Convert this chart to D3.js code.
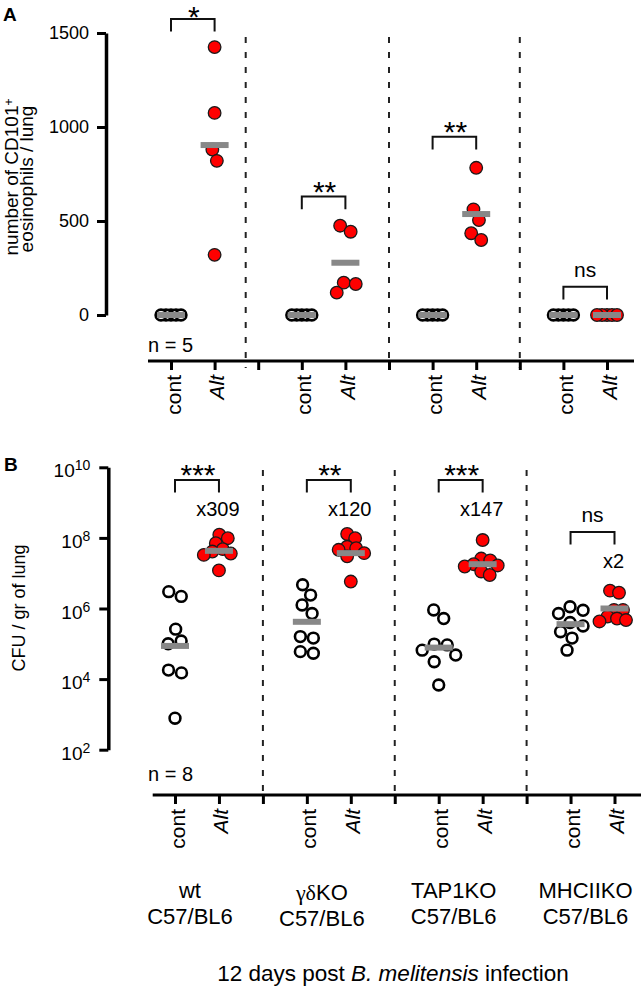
<!DOCTYPE html>
<html><head><meta charset="utf-8">
<script src="https://cdn.jsdelivr.net/npm/d3@7"></script>
<style>
body{margin:0;background:#fff}
svg{display:block}
text{font-family:"Liberation Sans",Arial,Helvetica,sans-serif;fill:#000}
</style>
</head><body>
<svg id="chart" width="641" height="987"></svg>
<script>
// ---------- data ----------
const groups = ["wt", "γδKO", "TAP1KO", "MHCIIKO"];
const conditions = ["cont", "Alt"];
const strainLabel = "C57/BL6";
const aTickValues = [0, 500, 1000, 1500];
const bTickValues = [1e2, 1e4, 1e6, 1e8, 1e10];

// Panel A: number of CD101+ eosinophils / lung (n = 5)
const eosCont = [[0,0,0,0,0],[0,0,0,0,0],[0,0,0,0,0],[0,0,0,0,0]];
const eosAlt  = [[1425,1075,880,820,320],[475,443,172,165,119],[783,562,505,435,399],[0,0,0,0,0]];
const eosContMean = [0, 0, 0, 0];
const eosAltMean  = [904, 278, 537, 0];

// Panel B: CFU / gr of lung (n = 8)
const cfuCont = [
  [3.0e6, 2.2e6, 2.6e5, 1.2e5, 1.0e5, 1.8e4, 1.5e4, 7.8e2],
  [4.7e6, 2.4e6, 1.26e6, 7.2e5, 1.6e5, 1.45e5, 6.0e4, 5.4e4],
  [9.1e5, 5.2e5, 9.8e4, 9.3e4, 6.6e4, 4.8e4, 3.1e4, 6.8e3],
  [1.12e6, 8.9e5, 7.2e5, 4.0e5, 3.2e5, 2.2e5, 1.45e5, 6.6e4]
];
const cfuAlt = [
  [1.23e8, 9.8e7, 7.1e7, 4.8e7, 4.1e7, 3.6e7, 3.3e7, 1.2e7],
  [1.29e8, 9.8e7, 5.6e7, 5.1e7, 4.6e7, 3.7e7, 3.0e7, 5.8e6],
  [8.7e7, 2.6e7, 2.3e7, 1.8e7, 1.66e7, 1.55e7, 1.12e7, 8.9e6],
  [3.2e6, 2.8e6, 9.1e5, 9.1e5, 5.9e5, 5.2e5, 4.7e5, 4.3e5]
];
const cfuContMean = [8.7e4, 4.2e5, 7.8e4, 3.6e5];
const cfuAltMean  = [4.3e7, 3.7e7, 1.8e7, 1.0e6];

// significance annotations
const sigA = ["*", "**", "**", "ns"];
const sigALevel = [1575, 630, 948, 150];
const sigB = ["***", "**", "***", "ns"];
const sigBLevel = [4.4e9, 4.4e9, 4.4e9, 1.48e8];
const foldB = ["x309", "x120", "x147", "x2"];
const nA = "n = 5", nB = "n = 8";

// ---------- layout ----------
const svg = d3.select("#chart");
const slots = [];
groups.forEach((g, i) => {
  conditions.forEach(c => slots.push(g + "|" + c));
  if (i < groups.length - 1) slots.push("div" + i);
});

const FONT = '"Liberation Sans",Arial,Helvetica,sans-serif';

// simple beeswarm-style horizontal dodge, clusters re-centred
function dodge(vals, y, d) {
  const placed = [];
  const offs = vals.map(v => {
    const py = y(v);
    let off = 0;
    for (let k = 0; k < 400; k++) {
      const cand = k === 0 ? 0 : (k % 2 ? 1 : -1) * Math.ceil(k / 2) * 0.5;
      if (placed.every(p => (p.x - cand) ** 2 + (p.y - py) ** 2 >= d * d)) { off = cand; break; }
    }
    placed.push({x: off, y: py});
    return off;
  });
  const idx = vals.map((v, i) => i).sort((a, b) => y(vals[a]) - y(vals[b]));
  const clusters = [];
  let cur = [idx[0]];
  for (let j = 1; j < idx.length; j++) {
    if (Math.abs(y(vals[idx[j]]) - y(vals[idx[j - 1]])) < d) cur.push(idx[j]);
    else { clusters.push(cur); cur = [idx[j]]; }
  }
  clusters.push(cur);
  clusters.forEach(c => {
    if (c.length > 1) { const m = d3.mean(c, i => offs[i]); c.forEach(i => offs[i] -= m); }
  });
  return offs;
}

function drawPanel(cfg) {
  const {x, y, contData, altData, contMean, altMean, yAxisX, xAxisY, axisLeftEnd, axisRightEnd,
         dashTop, dashBottom, dashShift, sig, sigLevel, fold, nText, nY, isLog} = cfg;
  const g = svg.append("g");

  // dashed dividers
  groups.slice(0, -1).forEach((gr, i) => {
    const dx = x("div" + i) + (dashShift[i] || 0);
    g.append("line").attr("x1", dx).attr("x2", dx).attr("y1", dashTop).attr("y2", dashBottom)
      .attr("stroke", "#222").attr("stroke-width", 2).attr("stroke-dasharray", "6,9");
  });

  // y axis
  const ya = d3.axisLeft(y).tickValues(cfg.tickValues).tickSize(9).tickSizeOuter(0).tickPadding(cfg.tickPad);
  if (!isLog) ya.tickFormat(d3.format("d"));
  const yg = g.append("g").attr("transform", `translate(${yAxisX},0)`).call(ya);
  yg.attr("font-size", null).attr("font-family", null);
  yg.select(".domain").attr("stroke-width", 3.5).attr("stroke", "#000");
  yg.selectAll(".tick line").attr("stroke-width", 3).attr("stroke", "#000");
  yg.selectAll(".tick text").style("font-family", FONT).style("font-size", isLog ? "19px" : "18px").attr("fill", "#000");
  if (isLog) {
    yg.selectAll(".tick text").each(function(d) {
      const t = d3.select(this).text("").attr("dy", "0.5em");
      t.append("tspan").text("10");
      t.append("tspan").attr("dy", -7).style("font-size", "14px").text(Math.round(Math.log10(d)));
    });
  }

  // x axis
  const xa = d3.axisBottom(x).tickSize(9).tickSizeOuter(0).tickFormat(() => "");
  const xg = g.append("g").attr("transform", `translate(0,${xAxisY})`).call(xa);
  xg.select(".domain").attr("d", `M${axisLeftEnd},0H${axisRightEnd}`).attr("stroke-width", 3).attr("stroke", "#000");
  xg.selectAll(".tick line").attr("stroke-width", 3).attr("stroke", "#000");

  // x labels
  groups.forEach(gr => conditions.forEach(c => {
    const px = x(gr + "|" + c);
    g.append("text").attr("transform", `translate(${px + 9.5},${xAxisY + 14}) rotate(-90)`)
      .attr("text-anchor", "end").style("font-size", "21px")
      .attr("font-style", c === "Alt" ? "italic" : "normal").text(c);
  }));

  // points
  groups.forEach((gr, i) => {
    [[contData[i], "cont"], [altData[i], "Alt"]].forEach(([vals, c]) => {
      const cx = x(gr + "|" + c);
      const allSame = d3.min(vals) === d3.max(vals);
      const offs = dodge(vals, y, allSame ? 5 : (c === "cont" ? cfg.dodgeCont : cfg.dodgeAlt));
      vals.forEach((v, k) => {
        const circ = g.append("circle").attr("cx", cx + offs[k]).attr("cy", y(v));
        if (c === "cont") circ.attr("r", 5.4).attr("fill", "#fff").attr("stroke", "#000").attr("stroke-width", 2.6);
        else circ.attr("r", 6.3).attr("fill", "#ff0000").attr("stroke", "#1a1a1a").attr("stroke-width", 1.3);
      });
    });
    // mean bars
    [[contMean[i], "cont"], [altMean[i], "Alt"]].forEach(([m, c]) => {
      const cx = x(gr + "|" + c);
      g.append("rect").attr("x", cx - 14).attr("y", y(m) - 3).attr("width", 28).attr("height", 6).attr("fill", "#888");
    });
  });

  // significance brackets
  groups.forEach((gr, i) => {
    const x1 = x(gr + "|cont"), x2 = x(gr + "|Alt");
    const by = y(sigLevel[i]);
    g.append("path").attr("d", `M${x1},${by + 12.7}V${by}H${x2}V${by + 12.7}`)
      .attr("fill", "none").attr("stroke", "#111").attr("stroke-width", 2);
    const isStar = sig[i] !== "ns";
    const fs = isStar ? 30 : 21;
    const base = isStar ? Math.max(by + 5.5, fs * 0.91) : by - 9.5;
    g.append("text").attr("x", (x1 + x2) / 2 + (isStar ? 1 : 0)).attr("y", base)
      .attr("text-anchor", "middle").style("font-size", fs + "px").text(sig[i]);
    if (fold) {
      g.append("text").attr("x", x2 - 1).attr("y", by + 36).attr("text-anchor", "middle")
        .style("font-size", "20px").text(fold[i]);
    }
  });

  // n label
  g.append("text").attr("x", 148).attr("y", nY).style("font-size", "20px").text(nText);
  return g;
}

// ---------- Panel A ----------
const xA = d3.scalePoint().domain(slots).range([171, 607]);
const yA = d3.scaleLinear().domain([0, 1500]).range([315, 33]);
drawPanel({x: xA, y: yA, contData: eosCont, altData: eosAlt, contMean: eosContMean, altMean: eosAltMean,
  yAxisX: 106, xAxisY: 361, axisLeftEnd: 148, axisRightEnd: 634, dashTop: 37, dashBottom: 368,
  dashShift: [-12.5, 0, 0], sig: sigA, sigLevel: sigALevel, fold: null, nText: nA, nY: 352,
  isLog: false, tickValues: aTickValues, tickPad: 8, dodgeCont: 11, dodgeAlt: 12});

svg.append("text").attr("x", 3).attr("y", 21).style("font-size", "19px").attr("font-weight", "bold").text("A");
const tA = svg.append("text").attr("transform", "translate(17.5,177) rotate(-90)").attr("text-anchor", "middle").style("font-size", "19px");
tA.append("tspan").text("number of CD101");
tA.append("tspan").attr("dy", -5).style("font-size", "12px").text("+");
svg.append("text").attr("transform", "translate(33,179) rotate(-90)").attr("text-anchor", "middle").style("font-size", "19px")
  .text("eosinophils / lung");

// ---------- Panel B ----------
const xB = d3.scalePoint().domain(slots).range([175, 614.5]);
const yB = d3.scaleLog().domain([1e2, 1e10]).range([749.7, 467.3]);
drawPanel({x: xB, y: yB, contData: cfuCont, altData: cfuAlt, contMean: cfuContMean, altMean: cfuAltMean,
  yAxisX: 108.3, xAxisY: 795, axisLeftEnd: 152.7, axisRightEnd: 641, dashTop: 470, dashBottom: 795,
  dashShift: [0, 0, 0], sig: sigB, sigLevel: sigBLevel, fold: foldB, nText: nB, nY: 781,
  isLog: true, tickValues: bTickValues, tickPad: 9, dodgeCont: 13, dodgeAlt: 9});

svg.append("text").attr("x", 4).attr("y", 471).style("font-size", "19px").attr("font-weight", "bold").text("B");
svg.append("text").attr("transform", "translate(25,608) rotate(-90)").attr("text-anchor", "middle").style("font-size", "18px")
  .text("CFU / gr of lung");

// group labels
groups.forEach((gr, i) => {
  const cx = (xB(gr + "|cont") + xB(gr + "|Alt")) / 2 - 7;
  const extra = gr.startsWith("γδ") ? 2 : 0;
  const t1 = svg.append("text").attr("x", cx).attr("y", 898 + extra).attr("text-anchor", "middle").style("font-size", "22px");
  if (gr.startsWith("γδ")) {
    t1.append("tspan").style("font-family", '"Liberation Serif","Times New Roman",serif').text("γδ");
    t1.append("tspan").text(gr.slice(2));
  } else t1.text(gr);
  svg.append("text").attr("x", cx).attr("y", 924 + extra).attr("text-anchor", "middle").style("font-size", "22px").text(strainLabel);
});

// bottom title
const title = svg.append("text").attr("x", 393).attr("y", 981).attr("text-anchor", "middle").style("font-size", "22.5px");
title.append("tspan").text("12 days post ");
title.append("tspan").attr("font-style", "italic").text("B. melitensis");
title.append("tspan").text(" infection");
</script>
</body></html>
